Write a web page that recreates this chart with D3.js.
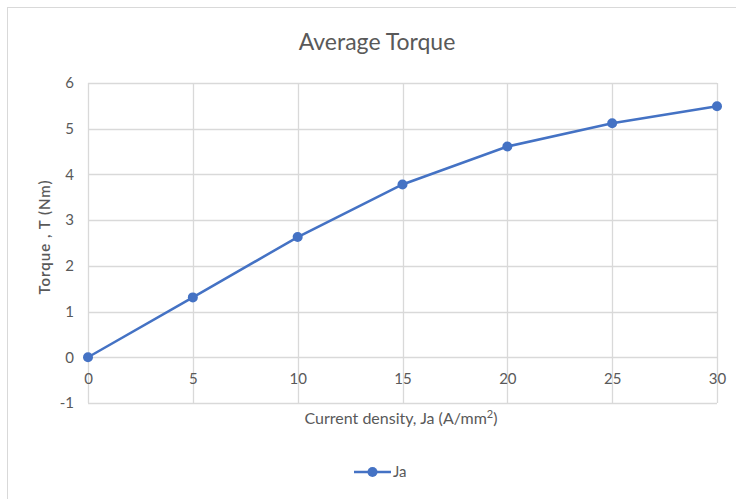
<!DOCTYPE html>
<html>
<head>
<meta charset="utf-8">
<script src="https://cdn.jsdelivr.net/npm/d3@7"></script>
<style>
  body { margin: 0; background: #fff; }
  text { font-family: Lato, "Open Sans", sans-serif; fill: #595959; }
</style>
</head>
<body>
<div id="chart"></div>
<script>
const currentDensity = [0, 5, 10, 15, 20, 25, 30];
const torque = [0, 1.31, 2.63, 3.78, 4.61, 5.12, 5.49];
const xTicks = [0, 5, 10, 15, 20, 25, 30];
const yTicks = [-1, 0, 1, 2, 3, 4, 5, 6];

const width = 736, height = 499;
const margin = {top: 83, right: 19, bottom: 96, left: 88};
const gWidth = width - margin.left - margin.right;
const gHeight = height - margin.top - margin.bottom;

const svg = d3.select('#chart').append('svg')
  .attr('width', width)
  .attr('height', height);

// outer chart frame
svg.append('rect')
  .attr('x', 7.5).attr('y', 7.5)
  .attr('width', width).attr('height', height)
  .attr('fill', 'none')
  .attr('stroke', '#d9d9d9');

svg.append('text')
  .attr('x', 377)
  .attr('y', 50)
  .attr('text-anchor', 'middle')
  .style('font-size', '23px')
  .text('Average Torque');

const g = svg.append('g')
  .attr('transform', `translate(${margin.left}, ${margin.top})`);

const xScale = d3.scaleLinear().domain([0, 30]).range([0, gWidth]);
const yScale = d3.scaleLinear().domain([-1, 6]).range([gHeight, 0]);

// gridlines
g.selectAll('line.hgrid')
  .data(yTicks)
  .enter().append('line')
  .attr('class', 'hgrid')
  .attr('x1', 0).attr('x2', gWidth)
  .attr('y1', d => Math.round(yScale(d)) + 0.5)
  .attr('y2', d => Math.round(yScale(d)) + 0.5)
  .attr('stroke', '#d9d9d9')
  .attr('stroke-width', 1.3);

g.selectAll('line.vgrid')
  .data(xTicks)
  .enter().append('line')
  .attr('class', 'vgrid')
  .attr('y1', 0).attr('y2', gHeight)
  .attr('x1', d => Math.round(xScale(d)) + 0.5)
  .attr('x2', d => Math.round(xScale(d)) + 0.5)
  .attr('stroke', '#d9d9d9')
  .attr('stroke-width', 1.3);

// y axis labels
const yAxis = g.append('g')
  .call(d3.axisLeft(yScale).tickValues(yTicks).tickSize(0).tickPadding(14)
    .tickFormat(d => String(d)));
yAxis.select('.domain').remove();
yAxis.selectAll('text').style('font-size', '15px').attr('fill', '#595959')
  .style('font-family', 'Lato, sans-serif');

// x axis labels sit below the zero line
const xAxis = g.append('g')
  .attr('transform', `translate(0, ${yScale(0)})`)
  .call(d3.axisBottom(xScale).tickValues(xTicks).tickSize(0).tickPadding(16)
    .tickFormat(d => String(d)));
xAxis.select('.domain').remove();
xAxis.selectAll('text').style('font-size', '15px').attr('fill', '#595959')
  .style('font-family', 'Lato, sans-serif');

// axis titles
svg.append('text')
  .attr('transform', `translate(50, ${margin.top + gHeight / 2 - 6}) rotate(-90)`)
  .attr('text-anchor', 'middle')
  .style('font-size', '15px')
  .style('font-weight', '600')
  .style('letter-spacing', '1px')
  .text('Torque , T (Nm)');

const xTitle = svg.append('text')
  .attr('x', 401)
  .attr('y', 424)
  .attr('text-anchor', 'middle')
  .style('font-size', '16px');
xTitle.append('tspan').text('Current density, Ja (A/mm');
xTitle.append('tspan').attr('dy', -6).style('font-size', '11px').text('2');
xTitle.append('tspan').attr('dy', 6).text(')');

// series
const lineGen = d3.line()
  .x((d, i) => xScale(currentDensity[i]))
  .y(d => yScale(d));

g.append('path')
  .datum(torque)
  .attr('fill', 'none')
  .attr('stroke', '#4472c4')
  .attr('stroke-width', 2.5)
  .attr('d', lineGen);

g.selectAll('circle.dot')
  .data(torque)
  .enter().append('circle')
  .attr('class', 'dot')
  .attr('cx', (d, i) => xScale(currentDensity[i]))
  .attr('cy', d => yScale(d))
  .attr('r', 5)
  .attr('fill', '#4472c4');

// legend
const legend = svg.append('g').attr('transform', 'translate(354, 472)');
legend.append('line')
  .attr('x1', 0).attr('x2', 37)
  .attr('stroke', '#4472c4')
  .attr('stroke-width', 2.5);
legend.append('circle')
  .attr('cx', 18.5).attr('r', 5)
  .attr('fill', '#4472c4');
legend.append('text')
  .attr('x', 39).attr('y', 5)
  .style('font-size', '15px')
  .text('Ja');
</script>
</body>
</html>
